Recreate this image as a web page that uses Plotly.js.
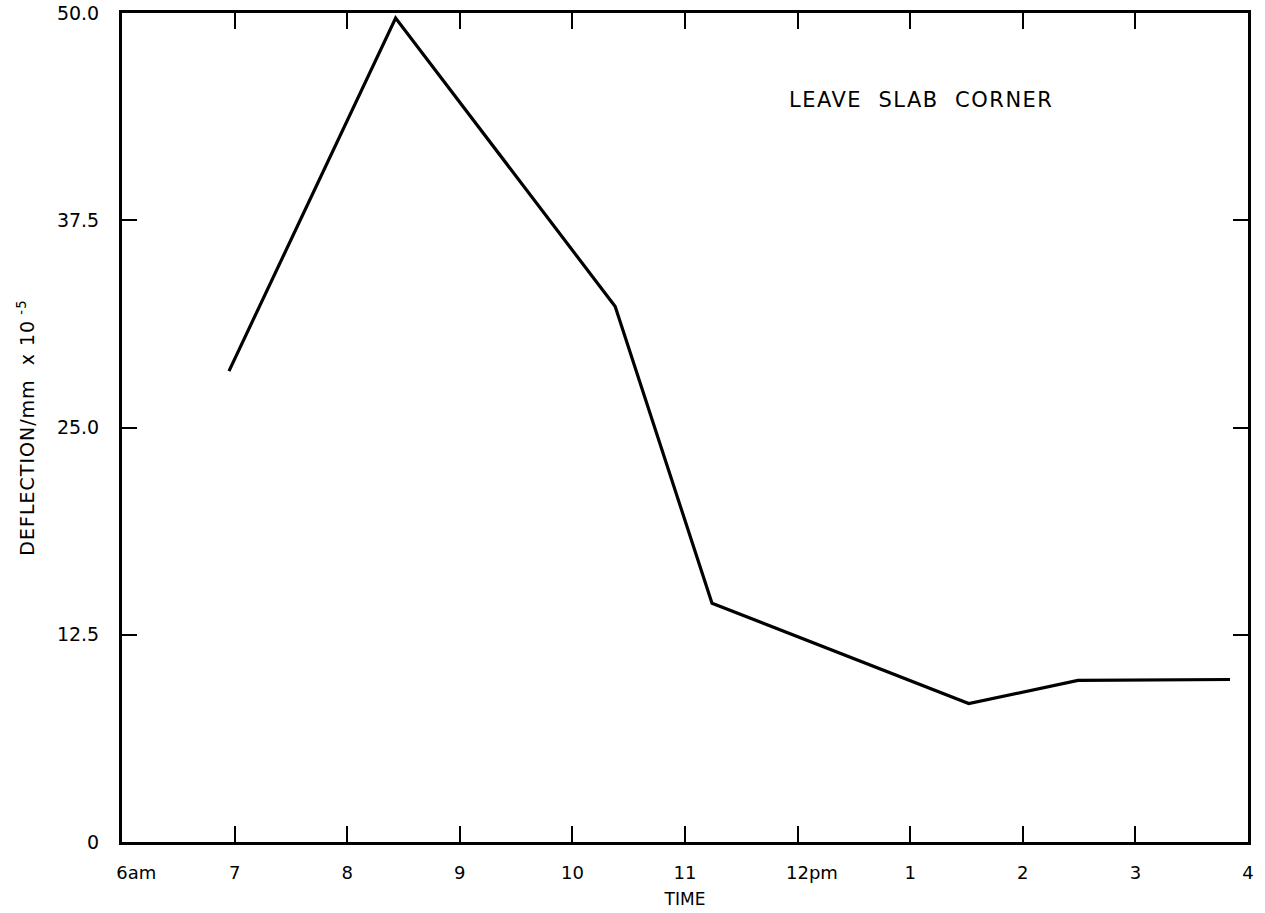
<!DOCTYPE html>
<html>
<head>
<meta charset="utf-8">
<script src="https://cdn.plot.ly/plotly-3.0.1.min.js"></script>
<style>
  html, body { margin: 0; padding: 0; background: #fff; }
  #chart { width: 1265px; height: 913px; }
  .annotation-text { letter-spacing: 1.5px; }
  .g-ytitle text { letter-spacing: 1px; }
</style>
</head>
<body>
<div id="chart"></div>
<script>
// Time in hours (6 = 6am, 12 = noon, 16 = 4pm)
const timeHours = [6.95, 8.43, 10.38, 11.24, 13.52, 14.49, 15.84];
const deflection = [28.4, 49.7, 32.3, 14.4, 8.35, 9.75, 9.8];

const xTickVals = [6, 7, 8, 9, 10, 11, 12, 13, 14, 15, 16];
const NB = '\u00a0';
const xTickText = [NB.repeat(5) + '6am', '7', '8', '9', '10', '11', NB.repeat(5) + '12pm', '1', '2', '3', '4'];
const yTickVals = [0, 12.5, 25, 37.5, 50];
const yTickText = ['0', '12.5', '25.0', '37.5', '50.0'];

const fontFamily = 'DejaVu Sans, sans-serif';

const trace = {
  x: timeHours,
  y: deflection,
  type: 'scatter',
  mode: 'lines',
  line: { color: '#000', width: 3.2 },
  hoverinfo: 'skip'
};

const layout = {
  width: 1265,
  height: 913,
  margin: { l: 122, r: 17, t: 13, b: 71 },
  paper_bgcolor: '#fff',
  plot_bgcolor: '#fff',
  showlegend: false,
  font: { family: fontFamily, color: '#000', size: 19 },
  xaxis: {
    range: [6, 16],
    tickvals: xTickVals,
    ticktext: xTickText,
    ticks: 'inside',
    ticklen: 16,
    tickwidth: 2,
    tickcolor: '#000',
    showline: true,
    linecolor: '#000',
    linewidth: 3,
    mirror: 'ticks',
    showgrid: false,
    zeroline: false,
    tickangle: 0,
    ticklabelstandoff: 12,
    tickfont: { family: fontFamily, size: 18, color: '#000' },
    title: { text: 'TIME', font: { family: fontFamily, size: 17, color: '#000' }, standoff: 12 }
  },
  yaxis: {
    range: [0, 50],
    tickvals: yTickVals,
    ticktext: yTickText,
    ticks: 'inside',
    ticklen: 15,
    tickwidth: 2,
    tickcolor: '#000',
    showline: true,
    linecolor: '#000',
    linewidth: 3,
    mirror: 'ticks',
    showgrid: false,
    zeroline: false,
    ticklabelstandoff: 16,
    tickfont: { family: fontFamily, size: 19, color: '#000' },
    title: { text: 'DEFLECTION/mm' + NB + NB + 'x 10<sup> -5</sup>', font: { family: fontFamily, size: 19, color: '#000' }, standoff: 18 }
  },
  annotations: [{
    x: 13.1, y: 44.75,
    xref: 'x', yref: 'y',
    text: 'LEAVE' + NB + NB + 'SLAB' + NB + NB + 'CORNER',
    showarrow: false,
    font: { family: fontFamily, size: 21, color: '#000' },
    xanchor: 'center', yanchor: 'middle'
  }]
};

Plotly.newPlot('chart', [trace], layout, { displayModeBar: false, staticPlot: true });
</script>
</body>
</html>
